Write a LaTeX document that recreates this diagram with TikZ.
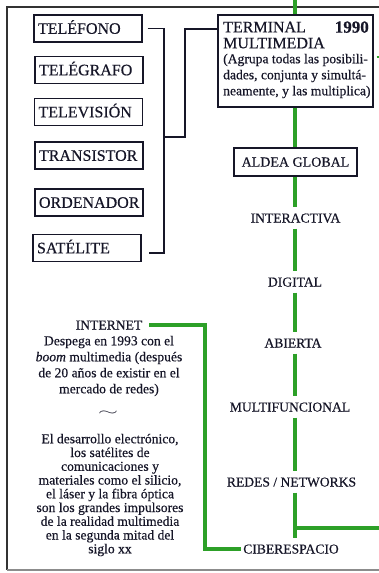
\documentclass[tikz,border=0pt]{standalone}
\usepackage{fontspec}
\setmainfont{Liberation Serif}[FakeBold=0.5]
\definecolor{ink}{RGB}{22,22,40}
\definecolor{gline}{RGB}{45,160,40}
\begin{document}
\begin{tikzpicture}[x=1pt,y=-1pt,
  every node/.style={text=ink},
  lbox/.style={draw=ink, line width=1.3pt, minimum width=108pt, minimum height=27pt,
    text width=100pt, inner xsep=4pt, inner ysep=0pt, align=left,
    font=\fontsize{16}{18}\selectfont, text height=10.6pt, text depth=0pt},
  lab/.style={font=\fontsize{13.6}{15}\selectfont, text height=9pt, text depth=0pt,
    inner xsep=2pt, inner ysep=6pt},
  big/.style={font=\fontsize{16}{18}\selectfont, text height=10.6pt, text depth=0pt, inner sep=0pt},
  conn/.style={draw=ink, line width=1.2pt},
  gl/.style={draw=gline, line width=4.2pt},
]
\useasboundingbox (0,0) rectangle (379,573);
% frame
\draw[black!80, line width=1.5pt] (379,7) -- (7,7) -- (7,570);
\draw[black!45, line width=1.3pt] (7,570) -- (379,570);

% left boxes
\node[lbox] (tel) at (88,28.5) {TELÉFONO};
\node[lbox] (teg) at (89,70) {TELÉGRAFO};
\node[lbox] (tev) at (88.5,112) {TELEVISIÓN};
\node[lbox] (tra) at (89,155.5) {TRANSISTOR};
\node[lbox] (ord) at (89,202.5) {ORDENADOR};
\node[lbox] (sat) at (87,248) {SATÉLITE};

% terminal box
\node[draw=ink, line width=1.3pt, minimum width=155pt, minimum height=92pt, inner sep=0pt] (term) at (295.5,61) {};
\node[big, anchor=west] (termt) at (223,27) {TERMINAL};
\node[anchor=east, font=\fontsize{17}{18}\selectfont\bfseries, text height=11.3pt, text depth=0pt, inner sep=0pt] (yr) at (369,27) {1990};
\node[big, anchor=west] (mm) at (223,43) {MULTIMEDIA};
\node[anchor=west, align=left, font=\fontsize{13.6}{16}\selectfont, inner sep=0pt] (agr) at (223,76)
  {(Agrupa todas las posibili-\\dades, conjunta y simultá-\\neamente, y las multiplica)};

% right column
\node[draw=ink, line width=1.3pt, minimum width=123pt, minimum height=28pt,
  font=\fontsize{14}{16}\selectfont, text height=9.3pt, text depth=0pt, inner sep=0pt] (aldea) at (295.5,162) {ALDEA GLOBAL};
\node[lab] (inter) at (295.5,218) {INTERACTIVA};
\node[lab] (dig) at (295,282) {DIGITAL};
\node[lab] (abi) at (293,343) {ABIERTA};
\node[lab] (mfun) at (290,407) {MULTIFUNCIONAL};
\node[lab] (redes) at (291.5,482) {REDES / NETWORKS};
\node[lab] (ciber) at (291,549) {CIBERESPACIO};

% left text
\node[lab, inner ysep=0pt] (inet) at (109,325) {INTERNET};
\node[align=center, font=\fontsize{13.6}{16}\selectfont, inner sep=0pt] (desp) at (109,366)
  {Despega en 1993 con el\\\textit{boom} multimedia (después\\de 20 años de existir en el\\mercado de redes)};
\node[inner sep=0pt] (tilde) at (108,413) {\resizebox{20pt}{4.5pt}{$\sim$}};
\node[align=center, font=\fontsize{13.6}{13.75}\selectfont, inner sep=0pt] (desa) at (110,495)
  {El desarrollo electrónico,\\los satélites de\\comunicaciones y\\materiales como el silicio,\\el láser y la fibra óptica\\son los grandes impulsores\\de la realidad multimedia\\en la segunda mitad del\\siglo xx};

% black connectors
\coordinate (b3) at (164,253);
\coordinate (b5) at (164,137);
\coordinate (b7) at (185,29);
\draw[conn] ([xshift=5pt]tel.east) -| (b3) -- ([xshift=7pt]sat.east |- b3);
\draw[conn] (b5) -| (b7) -- (term.west |- b7);

% green lines
\coordinate (gx) at (295,0);
\draw[gl] (gx) -- (gx |- term.north);
\draw[gl] (gx |- term.south) -- (gx |- aldea.north);
\draw[gl] (gx |- aldea.south) -- (gx |- inter.north);
\draw[gl] (gx |- inter.south) -- (gx |- dig.north);
\draw[gl] (gx |- dig.south) -- (gx |- abi.north);
\draw[gl] (gx |- abi.south) -- (gx |- mfun.north);
\draw[gl] (gx |- mfun.south) -- (gx |- redes.north);
\draw[gl] (gx |- redes.south) -- (gx |- ciber.north);
\coordinate (gr) at (379,528);
\draw[gl] (gx |- gr) -- (gr);
\coordinate (gl1) at (205,400);
\draw[gl] ([xshift=5pt]inet.east) -| (gl1) |- (ciber.west);
\coordinate (gs) at (379,57);
\draw[gl, line width=2pt] ([xshift=3pt]term.east |- gs) -- (gs);
\end{tikzpicture}
\end{document}
